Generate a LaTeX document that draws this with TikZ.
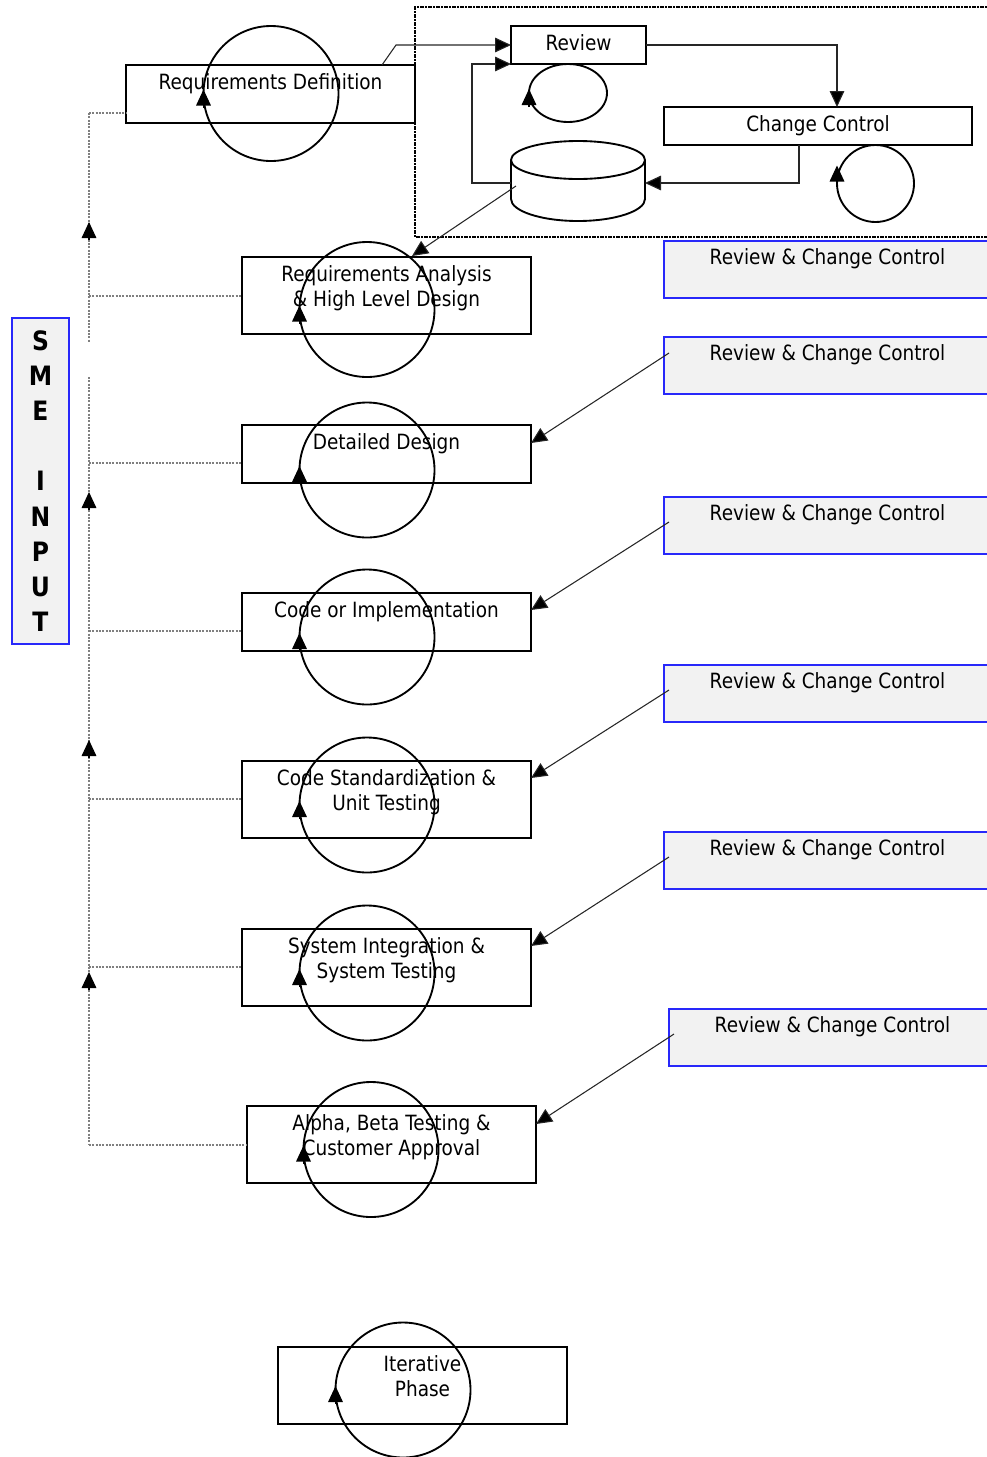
\documentclass[tikz,border=0pt]{standalone}
\usepackage{fontspec}
\setmainfont{DejaVu Sans}[FakeStretch=0.88]
\usetikzlibrary{arrows.meta,calc,shapes.geometric}
\definecolor{boxfill}{HTML}{F2F2F2}
\definecolor{bluebd}{RGB}{40,40,250}
\definecolor{dotgray}{HTML}{7F7F7F}
\begin{document}
\begin{tikzpicture}[x=0.75pt,y=-0.75pt,
  every node/.style={inner sep=0pt,outer sep=0pt},
  txt/.style={font=\fontsize{15.75pt}{19.1pt}\selectfont,align=center,anchor=north},
  pbox/.style={draw=black,line width=1.5pt,minimum width=216.75pt},
  short/.style={minimum height=43.5pt},
  tall/.style={minimum height=57.75pt},
  rccbox/.style={draw=bluebd,fill=boxfill,line width=1pt,minimum width=245.25pt,minimum height=42.75pt},
  conn/.style={draw=black!85,line width=0.8pt},
  arr/.style={-{Triangle[length=12pt,width=11pt,fill=black]}},
  loopc/.style={circle,draw=black,line width=1.4pt,minimum size=101.25pt},
  dotline/.style={draw=dotgray,line width=0.8pt,dash pattern=on 1.5pt off 1pt},
  frameline/.style={draw=black,line width=1.2pt,dash pattern=on 3pt off 1pt on 1pt off 1pt},
]
\useasboundingbox (0,0) rectangle (987,1457);

% dash-dot frame
\draw[frameline] (992,7) -- (415,7) -- (415,237) -- (992,237);

% SME input
\node[draw=bluebd,fill=boxfill,line width=1pt,minimum width=42.75pt,minimum height=244.5pt] (sme) at (40.5,481) {};
\node[font=\fontsize{20pt}{26.4pt}\selectfont\bfseries,align=center] (smet) at (40.5,481) {S\\M\\E\\[26.4pt]I\\N\\P\\U\\T};

% phase boxes
\node[pbox,short] (rd) at (270.5,94) {};
\node[pbox,tall]  (ra) at (386.5,295.5) {};
\node[pbox,short] (dd) at (386.5,454) {};
\node[pbox,short] (ci) at (386.5,622) {};
\node[pbox,tall]  (cs) at (386.5,799.5) {};
\node[pbox,tall]  (si) at (386.5,967.5) {};
\node[pbox,tall]  (ab) at (391.5,1144.5) {};
\node[pbox,tall]  (ip) at (422.5,1385.5) {};

% review / change control boxes
\node[draw=black,line width=1.5pt,minimum width=101.25pt,minimum height=28.5pt] (rv) at (578.5,45) {};
\node[draw=black,line width=1.5pt,minimum width=231pt,minimum height=28.5pt] (cc) at (818,126) {};

% RCC boxes
\node[rccbox] (q1) at (827.5,269.5) {};
\node[rccbox] (q2) at (827.5,365.5) {};
\node[rccbox] (q3) at (827.5,525.5) {};
\node[rccbox] (q4) at (827.5,693.5) {};
\node[rccbox] (q5) at (827.5,860.5) {};
\node[rccbox] (q6) at (832.5,1037.5) {};

% texts
\node[txt] (rdt) at (270.5,73.5) {Requirements Definition};
\node[txt] (rat) at (386.5,265.5) {Requirements Analysis\\\& High Level Design};
\node[txt] (ddt) at (386.5,433.5) {Detailed Design};
\node[txt] (cit) at (386.5,601.5) {Code or Implementation};
\node[txt] (cst) at (386.5,769.5) {Code Standardization \&\\Unit Testing};
\node[txt] (sit) at (386.5,937.5) {System Integration \&\\System Testing};
\node[txt] (abt) at (391.5,1114.5) {Alpha, Beta Testing \&\\Customer Approval};
\node[txt] (ipt) at (422.5,1355.5) {Iterative\\Phase};
\node[txt] (rvt) at (578.5,35) {Review};
\node[txt] (cct) at (818,116) {Change Control};
\node[txt] (q1t) at (827.5,248.5) {Review \& Change Control};
\node[txt] (q2t) at (827.5,344.5) {Review \& Change Control};
\node[txt] (q3t) at (827.5,504.5) {Review \& Change Control};
\node[txt] (q4t) at (827.5,672.5) {Review \& Change Control};
\node[txt] (q5t) at (827.5,839.5) {Review \& Change Control};
\node[txt] (q6t) at (832.5,1016.5) {Review \& Change Control};

% loops
\node[loopc] (rdl) at (271,93.5) {};
\node[loopc] (ral) at (367,309.5) {};
\node[loopc] (ddl) at (367,470) {};
\node[loopc] (cil) at (367,637) {};
\node[loopc] (csl) at (367,805) {};
\node[loopc] (sil) at (367,973) {};
\node[loopc] (abl) at (371,1149.5) {};
\node[loopc] (ipl) at (403,1390) {};
\node[ellipse,draw=black,line width=1.4pt,minimum width=58.5pt,minimum height=43.5pt] (rvl) at (568,93) {};
\node[circle,draw=black,line width=1.4pt,minimum size=57.75pt] (ccl) at (875.5,183.5) {};

\foreach \l in {rdl,ral,ddl,cil,csl,sil,abl,ipl,rvl}{
  \draw[black,line width=0.8pt,arr] ($(\l.west)+(0,14)$) -- ($(\l.west)+(0,-4)$);
}
\draw[black,line width=0.8pt,arr] ($(ccl.west)+(0,-2)$) -- ($(ccl.west)+(0,-18)$);

% database cylinder
\draw[black,line width=1.4pt] (578,160) ellipse [x radius=67, y radius=19];
\draw[black,line width=1.4pt] (511,160) -- (511,199) .. controls (511,211) and (541,221) .. (578,221) .. controls (615,221) and (645,211) .. (645,199) -- (645,160);
\coordinate (dbW) at (511,183);
\coordinate (dbE) at (645,183);
\coordinate (dbS) at (516,186);

% connectors in the review frame
\coordinate (rdOut) at (382,65);
\coordinate (ccIn) at (837,107);
\coordinate (ccOut) at (799,145);
\coordinate (raIn) at (412,256);
\draw[conn,arr] (rdOut) -- (396,45) -- (rv.west);
\draw[conn,arr] (dbW) -| (472,64) -- (rv.south west);
\draw[conn,arr] (rv.east) -| (ccIn);
\draw[conn,arr] (ccOut) |- (dbE);
\draw[conn,arr] (dbS) -- (raIn);

% RCC arrows
\coordinate (q2s) at (669,353);  \coordinate (q2e) at (531,443);
\coordinate (q3s) at (669,522);  \coordinate (q3e) at (531,610);
\coordinate (q4s) at (669,690);  \coordinate (q4e) at (531,778);
\coordinate (q5s) at (669,857);  \coordinate (q5e) at (531,946);
\coordinate (q6s) at (674,1034); \coordinate (q6e) at (536,1124);
\foreach \i in {2,...,6}{ \draw[conn,arr] (q\i s) -- (q\i e); }

% SME input dotted lines
\coordinate (L1) at (89,113);
\coordinate (Lg1) at (89,343);
\coordinate (Lg2) at (89,377);
\coordinate (L2) at (89,296);
\coordinate (L3) at (89,463);
\coordinate (L4) at (89,631);
\coordinate (L5) at (89,799);
\coordinate (L6) at (89,967);
\coordinate (L7) at (89,1145);
\draw[dotline] (L1) -- (Lg1);
\draw[dotline] (Lg2) -- (L7);
\draw[dotline] (L1) -- (L1 -| rd.west);
\draw[dotline] (L2) -- (L2 -| ra.west);
\draw[dotline] (L3) -- (L3 -| dd.west);
\draw[dotline] (L4) -- (L4 -| ci.west);
\draw[dotline] (L5) -- (L5 -| cs.west);
\draw[dotline] (L6) -- (L6 -| si.west);
\draw[dotline] (L7) -- (L7 -| ab.west);
\foreach \y in {222,492,740,972}{
  \draw[black,line width=0.8pt,arr] (89,\y+18) -- (89,\y);
}
\end{tikzpicture}
\end{document}
